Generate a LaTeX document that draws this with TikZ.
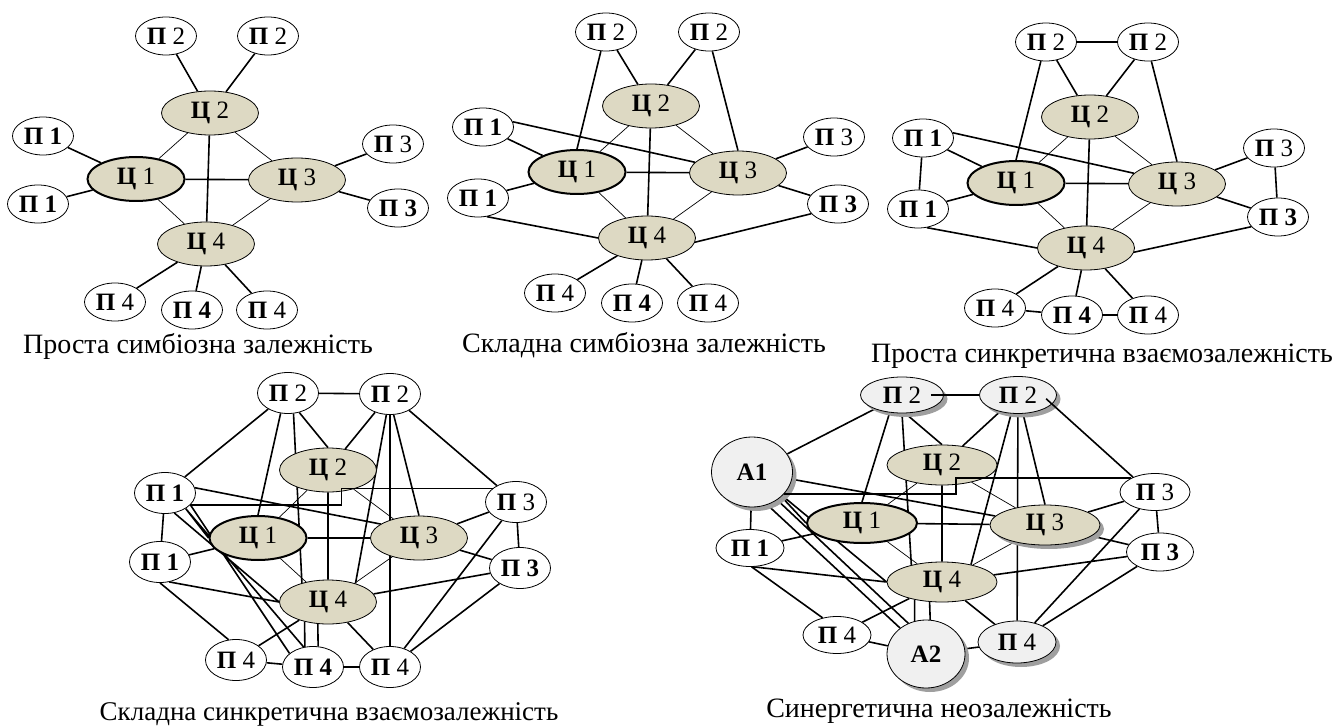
\documentclass[tikz,border=0pt]{standalone}
\usepackage{fontspec}
\setmainfont{Liberation Serif}
\usetikzlibrary{shapes.geometric,shadows}
\definecolor{khaki}{RGB}{221,217,195}
\definecolor{light}{RGB}{240,240,240}
\pgfdeclarelayer{bg}
\pgfsetlayers{bg,main}

\begin{document}
\begin{tikzpicture}[x=1pt, y=-1pt,
  pers/.style={ellipse, draw, line width=0.8pt, fill=white, inner sep=0pt,
    minimum width=61pt, minimum height=38pt, font=\fontsize{25}{27}\selectfont},
  tsentr/.style={pers, fill=khaki, minimum width=97pt, minimum height=44pt},
  holov/.style={tsentr, line width=2pt},
  tin/.style={drop shadow={shadow xshift=4pt, shadow yshift=-4pt, fill=gray!75, opacity=1}},
  sirij/.style={pers, fill=light, tin},
  shyrokyj/.style={minimum width=110pt, minimum height=40pt},
  tie/.style={line width=1.6pt},
  faint/.style={line width=0.7pt},
  pidpys/.style={anchor=base, font=\fontsize{28}{32}\selectfont}]

\useasboundingbox (0,0) rectangle (1343,727);

\node[pers] (aP2l) at (166,36) {\textbf{П} 2};
\node[pers] (aP2r) at (268,36) {\textbf{П} 2};
\node[tsentr] (aC2) at (210,113) {\textbf{Ц} 2};
\node[pers] (aP1u) at (43,136) {\textbf{П 1}};
\node[pers] (aP1d) at (38,204) {\textbf{П 1}};
\node[holov] (aC1) at (136,179) {\textbf{Ц} 1};
\node[tsentr] (aC3) at (297,180) {\textbf{Ц} 3};
\node[pers] (aP3u) at (393,144) {\textbf{П} 3};
\node[pers] (aP3d) at (398,208) {\textbf{П 3}};
\node[tsentr] (aC4) at (206,244) {\textbf{Ц} 4};
\node[pers] (aP4l) at (115,302) {\textbf{П} 4};
\node[pers] (aP4m) at (192,310) {\textbf{П 4}};
\node[pers] (aP4r) at (267,310) {\textbf{П} 4};
\node[pidpys] (aT) at (198,353) {Проста симбіозна залежність};

\node[pers] (bP2l) at (606,32) {\textbf{П} 2};
\node[pers] (bP2r) at (709,32) {\textbf{П} 2};
\node[tsentr] (bC2) at (651,106) {\textbf{Ц} 2};
\node[pers] (bP1u) at (483,127) {\textbf{П 1}};
\node[pers] (bP1d) at (478,198) {\textbf{П 1}};
\node[holov] (bC1) at (577,172) {\textbf{Ц} 1};
\node[tsentr] (bC3) at (738,173) {\textbf{Ц} 3};
\node[pers] (bP3u) at (834,137) {\textbf{П} 3};
\node[pers] (bP3d) at (838,204) {\textbf{П 3}};
\node[tsentr] (bC4) at (647,238) {\textbf{Ц} 4};
\node[pers] (bP4l) at (555,293) {\textbf{П} 4};
\node[pers] (bP4m) at (632,303) {\textbf{П 4}};
\node[pers] (bP4r) at (708,303) {\textbf{П} 4};
\node[pidpys] (bT) at (644,352) {Складна симбіозна залежність};

\node[pers] (cP2l) at (1046,42) {\textbf{П} 2};
\node[pers] (cP2r) at (1148,42) {\textbf{П} 2};
\node[tsentr] (cC2) at (1090,117) {\textbf{Ц} 2};
\node[pers] (cP1u) at (923,138) {\textbf{П 1}};
\node[pers] (cP1d) at (918,209) {\textbf{П 1}};
\node[holov] (cC1) at (1016,183) {\textbf{Ц} 1};
\node[tsentr] (cC3) at (1177,184) {\textbf{Ц} 3};
\node[pers] (cP3u) at (1274,148) {\textbf{П} 3};
\node[pers] (cP3d) at (1278,217) {\textbf{П 3}};
\node[tsentr] (cC4) at (1086,248) {\textbf{Ц} 4};
\node[pers] (cP4l) at (995,308) {\textbf{П} 4};
\node[pers] (cP4m) at (1072,315) {\textbf{П 4}};
\node[pers] (cP4r) at (1148,315) {\textbf{П} 4};
\node[pidpys] (cT) at (1102,362) {Проста синкретична взаємозалежність};

\node[pers, minimum height=41pt] (dP2l) at (288,393) {\textbf{П} 2};
\node[pers, minimum height=41pt] (dP2r) at (390,394) {\textbf{П} 2};
\node[tsentr] (dC2) at (328,470) {\textbf{Ц} 2};
\node[pers, minimum height=41pt] (dP1u) at (165,493) {\textbf{П 1}};
\node[pers, minimum height=41pt] (dP1d) at (160,562) {\textbf{П 1}};
\node[holov] (dC1) at (258,538) {\textbf{Ц} 1};
\node[tsentr] (dC3) at (419,538) {\textbf{Ц} 3};
\node[pers, minimum height=41pt] (dP3u) at (516,502) {\textbf{П} 3};
\node[pers, minimum height=41pt] (dP3d) at (520,568) {\textbf{П 3}};
\node[tsentr] (dC4) at (328,602) {\textbf{Ц} 4};
\node[pers, minimum height=41pt] (dP4l) at (236,660) {\textbf{П} 4};
\node[pers, minimum height=41pt] (dP4m) at (313,667) {\textbf{П 4}};
\node[pers, minimum height=41pt] (dP4r) at (390,667) {\textbf{П} 4};
\node[pidpys, font=\fontsize{27}{32}\selectfont] (dT) at (329,720) {Складна синкретична взаємозалежність};

\node[sirij, minimum width=83pt, minimum height=36pt] (eP2l) at (902,395) {\textbf{П} 2};
\node[sirij, minimum width=77pt, minimum height=37pt] (eP2r) at (1018,395) {\textbf{П} 2};
\node[tsentr, shyrokyj] (eC2) at (942,465) {\textbf{Ц} 2};
\node[sirij, minimum width=81pt, minimum height=70pt] (eA1) at (752,472) {\textbf{А1}};
\node[holov, shyrokyj] (eC1) at (862,523) {\textbf{Ц} 1};
\node[tsentr, shyrokyj, tin] (eC3) at (1045,525) {\textbf{Ц} 3};
\node[pers, minimum width=70pt, minimum height=37pt] (eP3u) at (1155,492) {\textbf{П} 3};
\node[pers, minimum width=67pt, minimum height=38pt] (eP3d) at (1160,552) {\textbf{П 3}};
\node[pers, minimum width=68pt, minimum height=37pt] (eP1) at (750,548) {\textbf{П 1}};
\node[tsentr, shyrokyj] (eC4) at (942,582) {\textbf{Ц} 4};
\node[pers, minimum width=68pt, minimum height=37pt] (eP4l) at (837,635) {\textbf{П} 4};
\node[sirij, minimum width=78pt, minimum height=68pt] (eA2) at (926,654) {\textbf{А2}};
\node[sirij, minimum width=78pt, minimum height=42pt] (eP4r) at (1017,642) {\textbf{П} 4};
\node[pidpys] (eT) at (939,717) {Синергетична неозалежність};

\begin{pgfonlayer}{bg}
\draw[tie] (aP2l) -- (aC2) (aP2r) -- (aC2) (aP1u) -- (aC1) (aP1d) -- (aC1)
  (aP3u) -- (aC3) (aP3d) -- (aC3) (aC4) -- (aP4l) (aC4) -- (aP4m) (aC4) -- (aP4r)
  (aC1) -- (aC3) (aC2) -- (aC4);
\draw[faint] (aC1) -- (aC2) (aC2) -- (aC3) (aC1) -- (aC4) (aC3) -- (aC4);

\draw[tie] (bP2l) -- (bC2) (bP2r) -- (bC2) (bP1u) -- (bC1) (bP1d) -- (bC1)
  (bP3u) -- (bC3) (bP3d) -- (bC3) (bC4) -- (bP4l) (bC4) -- (bP4m) (bC4) -- (bP4r)
  (bC1) -- (bC3) (bC2) -- (bC4)
  (bP2l.-105) -- (bC1.north) (bP2r.-80) -- (bC3.north) (bP1u.10) -- (bC3.166)
  (bP1d.-65) -- (bC4.west) (bP3d.-160) -- (bC4.-5);
\draw[faint] (bC1) -- (bC2) (bC2) -- (bC3) (bC1) -- (bC4) (bC3) -- (bC4);

\draw[tie] (cP2l) -- (cC2) (cP2r) -- (cC2) (cP1u) -- (cC1) (cP1d) -- (cC1)
  (cP3u) -- (cC3) (cP3d) -- (cC3) (cC4) -- (cP4l) (cC4) -- (cP4m) (cC4) -- (cP4r)
  (cC1) -- (cC3) (cC2) -- (cC4)
  (cP2l.-105) -- (cC1.north) (cP2r.-80) -- (cC3.north) (cP1u.10) -- (cC3.166)
  (cP1d.-65) -- (cC4.west) (cP3d.-160) -- (cC4.-5)
  (cP2l) -- (cP2r) (cP1u) -- (cP1d) (cP3u) -- (cP3d) (cP4l) -- (cP4m) (cP4m) -- (cP4r);
\draw[faint] (cC1) -- (cC2) (cC2) -- (cC3) (cC1) -- (cC4) (cC3) -- (cC4);

\draw[tie] (dP2l) -- (dP2r)
  (dP2l) -- (dP1u) (dP2l.-110) -- (dC1.north) (dP2l.-75) -- (dC4.144) (dP2l.-60) -- (dC2.north)
  (dP2r) -- (dC2) (dP2r.-100) -- (dC4.34) (dP2r.-80) -- (dC3.north) (dP2r) -- (dP4r) (dP2r) -- (dP3u)
  (dP1u.10) -- (dC3.160) (dP1u.-37) -- (dC1.west) (dP1u.-65) -- (dC4.west)
  (dP1u.-37) -- (dP4m.115) (dP1u.-25) -- (dP4m.150) (dP1u) -- (dP1d)
  (dP1d) -- (dC1) (dP1d.-65) -- (dC4.west) (dP1d.-90) -- (dP4l.110)
  (dC1) -- (dC3) (dC2) -- (dC4)
  (dC3) -- (dP3u) (dC3) -- (dP3d) (dP3u) -- (dP3d) (dP3u) -- (dP4r) (dP3d) -- (dC4) (dP3d) -- (dP4r)
  (dC4) -- (dP4l) (dC4.-140) -- (dP4m.112) (dC4.-115) -- (dP4m.76) (dC4) -- (dP4r)
  (dP4l) -- (dP4m) (dP4m) -- (dP4r);
\draw[faint] (dC1) -- (dC2) (dC2) -- (dC3) (dC1) -- (dC4) (dC3) -- (dC4);

\draw[tie] (eP2l) -- (eA1) (eP2l.-125) -- (eC1.north) (eP2l.-90) -- (eC4.151) (eP2l.-80) -- (eC2.north)
  (eP2r) -- (eC2) (eP2r.-110) -- (eC4.31) (eP2r.-75) -- (eC3.north) (eP2r) -- (eP4r)
  (eA1) -- (eC3) (eA1.-40) -- (eC1.west) (eA1.-38) -- (eC4.west)
  (eA1.-65) -- (eA2.135) (eA1.-48) -- (eA2.120) (eA1) -- (eP1)
  (eP1) -- (eC1) (eP1.-80) -- (eC4.west) (eP1.-85) -- (eP4l.130)
  (eC1) -- (eC3) (eC2) -- (eC4)
  (eC3) -- (eP3u) (eC3) -- (eP3d) (eP3u) -- (eP3d) (eP3u) -- (eP4r) (eP3d) -- (eC4) (eP3d) -- (eP4r)
  (eC4) -- (eP4l) (eC4) -- (eP4r) (eC4.-147) -- (eA2.109) (eC4.-122) -- (eA2.83)
  (eP4l) -- (eA2) (eA2) -- (eP4r);
\draw[faint] (eC1) -- (eC2) (eC2) -- (eC3) (eC1) -- (eC4) (eC3) -- (eC4);
\end{pgfonlayer}

\draw[tie] (dP1u.-25) -- ++(151,0) |- (dP3u.150);
\draw[tie] (eA1.-35) -- ++(172,0) |- (eP3u.150);
\draw[tie, shorten <=-13pt] (eP2l.east) -- (eP2r.west);
\draw[tie, shorten <=-8pt] (eP2r.-15) -- (eP3u.146);

\end{tikzpicture}
\end{document}
